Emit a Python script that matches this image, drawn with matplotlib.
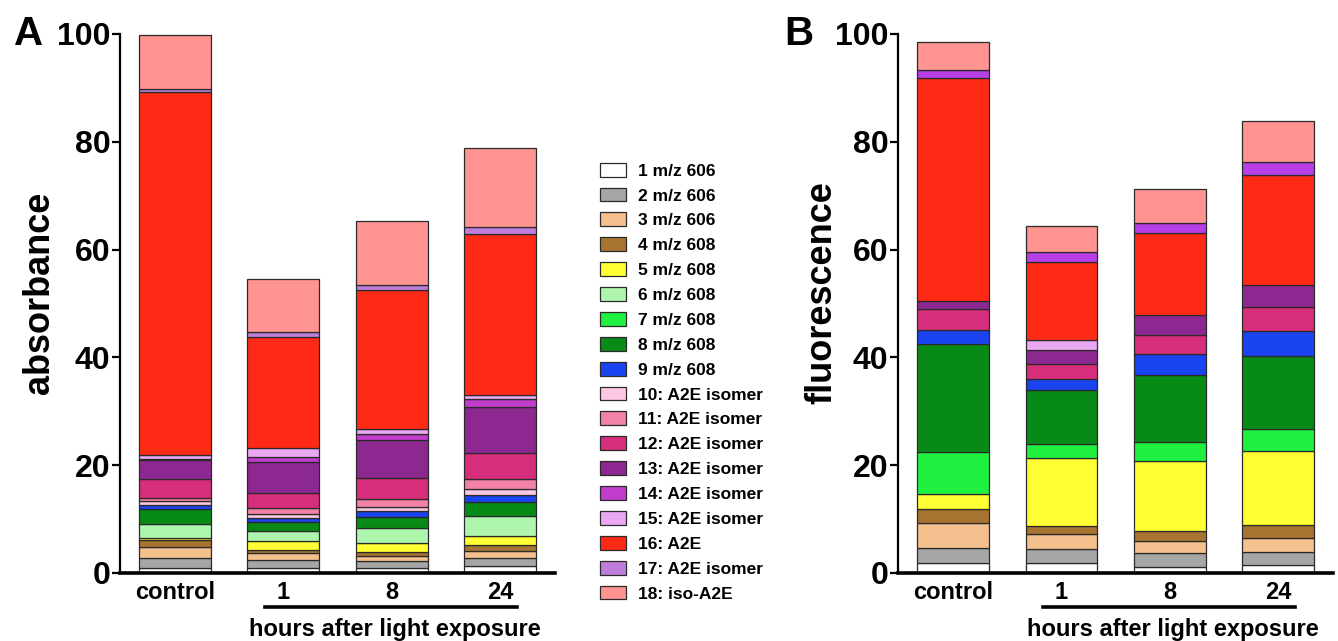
import numpy as np
import matplotlib
matplotlib.use("Agg")
import matplotlib.pyplot as plt
from matplotlib.patches import Patch

plt.rcParams['font.family'] = ['Liberation Sans', 'DejaVu Sans']
plt.rcParams['font.weight'] = 'bold'

groups = ["control", "1", "8", "24"]
labels = ["1 m/z 606", "2 m/z 606", "3 m/z 606", "4 m/z 608", "5 m/z 608",
          "6 m/z 608", "7 m/z 608", "8 m/z 608", "9 m/z 608",
          "10: A2E isomer", "11: A2E isomer", "12: A2E isomer", "13: A2E isomer",
          "14: A2E isomer", "15: A2E isomer", "16: A2E", "17: A2E isomer",
          "18: iso-A2E"]
colors = ["#ffffff", "#a6a6a6", "#f4c08e", "#a87432", "#ffff33", "#aef5ae",
          "#20f040", "#088a16", "#1a44f0", "#fcc8e4", "#f282a6", "#d62e7a",
          "#8c2890", "#c23ccc", "#eaa8f2", "#ff2a16", "#c07edc", "#ff9490"]

# absorbance, stacked segments for peaks 1..18
abs_control = [1.0, 1.8, 2.1, 1.3, 0.3, 2.6, 0.0, 2.8, 0.75, 0.75, 0.5, 3.6, 3.4, 0.3, 0.7, 67.4, 0.5, 10.0]
abs_1h = [1.0, 1.4, 1.25, 0.6, 1.65, 1.9, 0.0, 1.7, 0.65, 0.75, 1.1, 2.9, 5.75, 0.95, 1.5, 20.7, 0.95, 9.7]
abs_8h = [1.0, 1.3, 0.85, 0.8, 1.65, 2.7, 0.0, 2.15, 1.05, 0.8, 1.4, 3.85, 7.15, 1.0, 1.0, 25.8, 0.9, 11.9]
abs_24h = [1.35, 1.5, 1.3, 1.05, 1.7, 3.65, 0.0, 2.7, 1.25, 1.1, 1.85, 4.75, 8.55, 1.5, 0.7, 29.85, 1.4, 14.65]

# fluorescence
fl_control = [1.8, 2.9, 4.5, 2.6, 2.8, 0.0, 7.8, 20.0, 2.6, 0.0, 0.0, 3.9, 1.5, 0.0, 0.0, 41.4, 1.6, 5.1]
fl_1h = [1.8, 2.6, 2.8, 1.6, 12.5, 0.0, 2.7, 9.9, 2.1, 0.0, 0.0, 2.8, 2.5, 0.0, 2.0, 14.45, 1.8, 4.9]
fl_8h = [1.2, 2.45, 2.35, 1.7, 13.0, 0.0, 3.6, 12.4, 3.95, 0.0, 0.0, 3.55, 3.6, 0.0, 0.0, 15.3, 1.9, 6.2]
fl_24h = [1.5, 2.45, 2.5, 2.45, 13.65, 0.0, 4.25, 13.5, 4.55, 0.0, 0.0, 4.45, 4.05, 0.0, 0.0, 20.5, 2.45, 7.5]

fl_colors = list(colors)
fl_colors[16] = "#b83ee6"


def stacked(ax, data, cols, ylabel, ylab_x, letter, letter_x):
    data = np.array(data)          # shape (4 groups, 18 peaks)
    x = np.arange(len(groups))
    bottom = np.zeros(len(groups))
    for k in range(data.shape[1]):
        h = data[:, k]
        m = h > 0
        ax.bar(x[m], h[m], 0.664, bottom=bottom[m], color=cols[k],
               edgecolor="#2a2a2a", linewidth=0.9, zorder=2)
        bottom += h
    ax.set_ylim(0, 100)
    ax.set_xlim(-0.51, 3.51)
    ax.set_yticks([0, 20, 40, 60, 80, 100])
    ax.set_xticks(x)
    ax.set_xticklabels(groups, fontsize=17, fontweight='bold')
    ax.tick_params(axis='y', labelsize=23, length=6, width=1.6, pad=1)
    ax.tick_params(axis='x', length=0, pad=6)
    for t in ax.get_yticklabels():
        t.set_fontweight('bold')
    ax.spines['top'].set_visible(False)
    ax.spines['right'].set_visible(False)
    ax.spines['left'].set_linewidth(1.6)
    ax.spines['bottom'].set_linewidth(2.6)
    ax.set_ylabel(ylabel, fontsize=26, fontweight='bold')
    ax.yaxis.set_label_coords(ylab_x, 0.52)
    ax.plot([0.83, 3.16], [-0.064, -0.064], color="black", lw=2.6,
            transform=ax.get_xaxis_transform(), clip_on=False)
    ax.text(2.03, -0.104, "hours after light exposure", fontsize=17,
            fontweight='bold', ha='center', va='center',
            transform=ax.get_xaxis_transform())
    ax.text(letter_x, 1.0, letter, fontsize=29, fontweight='bold',
            ha='right', va='center', transform=ax.transAxes)


fig = plt.figure(figsize=(13.38, 6.41), dpi=100)
axA = fig.add_axes([0.0897, 0.1061, 0.3251, 0.8409])
axB = fig.add_axes([0.6712, 0.1061, 0.3251, 0.8409])

stacked(axA, [abs_control, abs_1h, abs_8h, abs_24h], colors, "absorbance", -0.145, "A", -0.177)
stacked(axB, [fl_control, fl_1h, fl_8h, fl_24h], fl_colors, "fluorescence", -0.135, "B", -0.195)

handles = [Patch(facecolor=c, edgecolor="#2a2a2a", linewidth=0.9) for c in colors]
fig.legend(handles, labels, loc='upper left', bbox_to_anchor=(0.443, 0.757),
           frameon=False, fontsize=12.5, handlelength=1.5, handleheight=0.85,
           handletextpad=0.7, labelspacing=0.515, borderaxespad=0)

fig.savefig("out.png", dpi=100)
